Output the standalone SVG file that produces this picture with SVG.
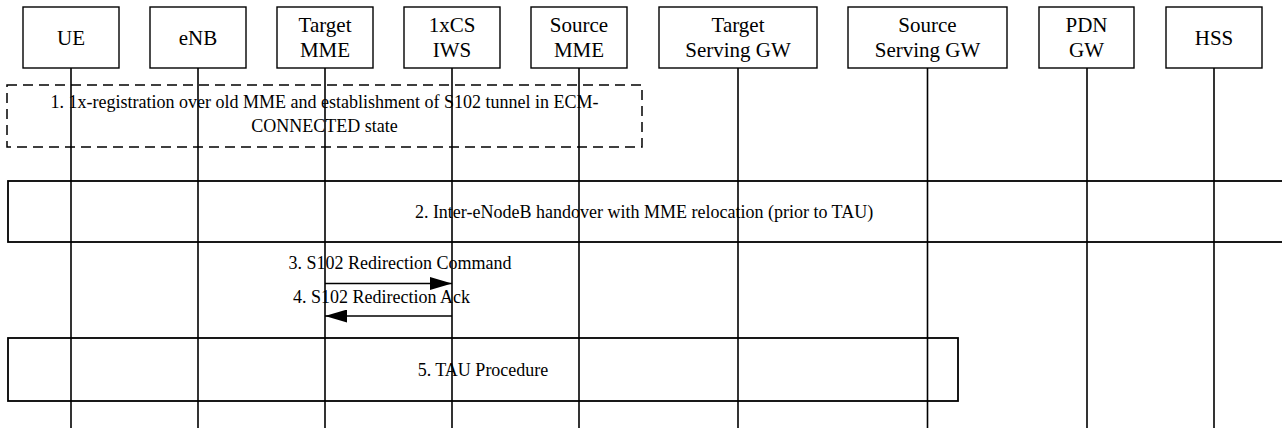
<svg xmlns="http://www.w3.org/2000/svg" width="1282" height="428" viewBox="0 0 1282 428">
<defs>
<style>
.box{fill:#fff;stroke:#000;stroke-width:1.4}
.frame{fill:none;stroke:#000;stroke-width:1.8}
.dash{fill:none;stroke:#000;stroke-width:1.5;stroke-dasharray:10 6}
.life{stroke:#000;stroke-width:1.6}
.msg{stroke:#000;stroke-width:1.6;fill:none}
text{font-family:'Liberation Serif',Tinos,'Times New Roman',Times,'DejaVu Serif',serif;fill:#000;text-anchor:middle}
.hd{font-size:21px}
.lb{font-size:18px}
</style>
<marker id="ah" viewBox="0 0 22 13" refX="22" refY="6.5" markerWidth="22" markerHeight="13" markerUnits="userSpaceOnUse" orient="auto">
<path d="M0,0 L22,6.5 L0,13 Z" fill="#000"/>
</marker>
</defs>
<rect width="1282" height="428" fill="#fff"/>
<g id="frames">
<g id="step1">
<rect class="dash" x="7" y="85" width="635" height="62"/>
<text class="lb" x="324.5" y="108">1. 1x-registration over old MME and establishment of S102 tunnel in ECM-</text>
<text class="lb" x="324.5" y="132">CONNECTED state</text>
</g>
<g id="step2">
<rect class="frame" x="8" y="181" width="1280" height="61"/>
<text class="lb" x="644" y="218">2. Inter-eNodeB handover with MME relocation (prior to TAU)</text>
</g>
<g id="step5">
<rect class="frame" x="8" y="338" width="950" height="63"/>
<text class="lb" x="483" y="376">5. TAU Procedure</text>
</g>
</g>
<g id="UE">
<rect class="box" x="23" y="7" width="96" height="61"/>
<text class="hd" x="71" y="44.5">UE</text>
<line class="life" x1="71" y1="68" x2="71" y2="428"/>
</g>
<g id="eNB">
<rect class="box" x="150" y="7" width="96" height="61"/>
<text class="hd" x="198" y="44.5">eNB</text>
<line class="life" x1="198" y1="68" x2="198" y2="428"/>
</g>
<g id="TargetMME">
<rect class="box" x="277" y="7" width="96" height="61"/>
<text class="hd" x="325" y="31.5">Target</text>
<text class="hd" x="325" y="57">MME</text>
<line class="life" x1="325" y1="68" x2="325" y2="428"/>
</g>
<g id="IWS">
<rect class="box" x="404" y="7" width="96" height="61"/>
<text class="hd" x="452" y="31.5">1xCS</text>
<text class="hd" x="452" y="57">IWS</text>
<line class="life" x1="452" y1="68" x2="452" y2="428"/>
</g>
<g id="SourceMME">
<rect class="box" x="531" y="7" width="96" height="61"/>
<text class="hd" x="579" y="31.5">Source</text>
<text class="hd" x="579" y="57">MME</text>
<line class="life" x1="579" y1="68" x2="579" y2="428"/>
</g>
<g id="TargetSGW">
<rect class="box" x="659" y="7" width="158" height="61"/>
<text class="hd" x="738" y="31.5">Target</text>
<text class="hd" x="738" y="57">Serving GW</text>
<line class="life" x1="738" y1="68" x2="738" y2="428"/>
</g>
<g id="SourceSGW">
<rect class="box" x="848" y="7" width="159" height="61"/>
<text class="hd" x="927.5" y="31.5">Source</text>
<text class="hd" x="927.5" y="57">Serving GW</text>
<line class="life" x1="927.5" y1="68" x2="927.5" y2="428"/>
</g>
<g id="PDNGW">
<rect class="box" x="1039" y="7" width="95" height="61"/>
<text class="hd" x="1086.5" y="31.5">PDN</text>
<text class="hd" x="1086.5" y="57">GW</text>
<line class="life" x1="1087" y1="68" x2="1087" y2="428"/>
</g>
<g id="HSS">
<rect class="box" x="1166" y="7" width="96" height="61"/>
<text class="hd" x="1214" y="45">HSS</text>
<line class="life" x1="1214" y1="68" x2="1214" y2="428"/>
</g>
<g id="connectors">
<line class="msg" x1="325" y1="283.5" x2="452" y2="283.5" marker-end="url(#ah)"/>
<text class="lb" x="400" y="269">3. S102 Redirection Command</text>
<line class="msg" x1="452" y1="316" x2="325" y2="316" marker-end="url(#ah)"/>
<text class="lb" x="381.5" y="303">4. S102 Redirection Ack</text>
</g>
</svg>
